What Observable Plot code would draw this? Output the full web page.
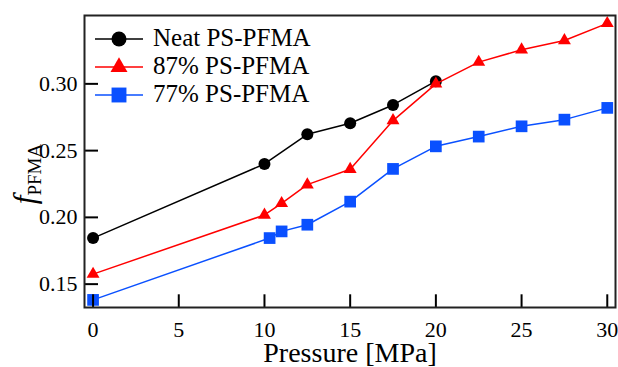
<!DOCTYPE html>
<html><head><meta charset="utf-8">
<script src="https://cdn.jsdelivr.net/npm/d3@7"></script>
<script src="https://cdn.jsdelivr.net/npm/@observablehq/plot@0.6"></script>
<style>
  html,body{margin:0;padding:0;background:#fff}
  #chart svg{display:block}
</style>
</head><body><div id="chart"></div>
<script>
// ---- data ----
const seriesNames = ["Neat PS-PFMA", "87% PS-PFMA", "77% PS-PFMA"];
const pressureNeat = [0, 10, 12.5, 15, 17.5, 20];
const fNeat = [0.1845, 0.240, 0.2622, 0.2705, 0.2842, 0.302];
const pressure87 = [0, 10, 11, 12.5, 15, 17.5, 20, 22.5, 25, 27.5, 30];
const f87 = [0.1575, 0.2018, 0.2105, 0.2245, 0.2360, 0.2725, 0.300, 0.3163, 0.3255, 0.3325, 0.3453];
const pressure77 = [0, 10.3, 11, 12.5, 15, 17.5, 20, 22.5, 25, 27.5, 30];
const f77 = [0.1382, 0.1845, 0.1895, 0.1945, 0.2118, 0.2363, 0.2532, 0.2605, 0.2682, 0.2732, 0.282];
const xTicks = [0, 5, 10, 15, 20, 25, 30];
const yTicks = [0.15, 0.20, 0.25, 0.30];
const xLabel = "Pressure [MPa]";
const yLabelMain = "f";
const yLabelSub = "PFMA";

const colors = ["#000000", "#ff0000", "#0a50ff"];
const symbols = ["circle", "triangle", "square"];
const dotR = [6.0, 4.8, 6.6];
const legendR = [7.5, 6.3, 8.4];

const zip = (xs, ys) => xs.map((x, i) => ({x, y: ys[i]}));
const series = [zip(pressureNeat, fNeat), zip(pressure87, f87), zip(pressure77, f77)];

const W = 618, H = 367, mL = 84, mR = 3, mT = 15, mB = 60;
const font = "Liberation Serif, Times New Roman, serif";

const marks = [];
series.forEach((d, i) => {
  marks.push(Plot.line(d, {x: "x", y: "y", stroke: colors[i], strokeWidth: 1.5}));
  marks.push(Plot.dot(d, {x: "x", y: "y", symbol: () => symbols[i], fill: colors[i], stroke: "none", r: dotR[i]}));
});

const plot = Plot.plot({
  width: W, height: H,
  marginLeft: mL, marginRight: mR, marginTop: mT, marginBottom: mB,
  style: {fontFamily: font, color: "#000", background: "#fff"},
  x: {domain: [-0.5, 30.48], axis: null},
  y: {domain: [0.1325, 0.3512], axis: null},
  symbol: {type: "identity"},
  marks: [
    ...marks,
    Plot.ruleX(xTicks, {x: d => d, insetTop: (H - mT - mB) - 12.7, stroke: "#000", strokeWidth: 2}),
    Plot.ruleY(yTicks, {y: d => d, insetRight: (W - mL - mR) - 14, stroke: "#000", strokeWidth: 2}),
    Plot.axisX(xTicks, {tickSize: 0, tickPadding: 14, fontSize: 22, label: null, tickFormat: d => String(d)}),
    Plot.axisY(yTicks, {tickSize: 0, tickPadding: 7, fontSize: 22, label: null, tickFormat: d3.format(".2f")}),
    Plot.text([xLabel], {frameAnchor: "bottom", dy: 46, fontSize: 28, lineAnchor: "middle"}),
    Plot.frame({stroke: "#222", strokeWidth: 2})
  ]
});
document.getElementById("chart").appendChild(plot);

const svg = d3.select(plot);

// y-axis label f_PFMA
const yl = svg.append("text")
  .attr("transform", "translate(35,174) rotate(-90)")
  .attr("text-anchor", "middle")
  .attr("fill", "#000");
yl.append("tspan").attr("font-style", "italic").attr("font-size", 31).text(yLabelMain);
yl.append("tspan").attr("font-size", 19).attr("dy", 6).text(yLabelSub);

// legend
const lg = svg.append("g").attr("font-size", 25).attr("text-anchor", "start");
const rowY = [39, 67, 95];
seriesNames.forEach((name, i) => {
  const g = lg.append("g").attr("transform", `translate(0,${rowY[i]})`);
  g.append("line").attr("x1", 95).attr("x2", 143).attr("y1", 0).attr("y2", 0)
    .attr("stroke", colors[i]).attr("stroke-width", 1.5);
  const sym = [d3.symbolCircle, d3.symbolTriangle, d3.symbolSquare][i];
  g.append("path").attr("transform", "translate(119,0)")
    .attr("d", d3.symbol(sym, Math.PI * legendR[i] * legendR[i])())
    .attr("fill", colors[i]);
  g.append("text").attr("x", 153).attr("y", 7).attr("text-anchor", "start").attr("fill", "#000").text(name);
});

svg.selectAll("text").style("font-family", font);
</script></body></html>
